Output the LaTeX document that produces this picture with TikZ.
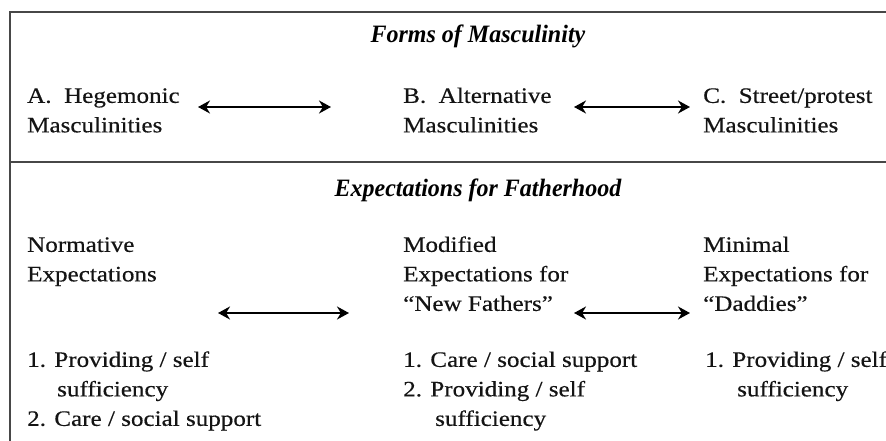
\documentclass[tikz,border=0pt]{standalone}
\usepackage{fontspec}
\setmainfont[FakeStretch=1.14,FakeBold=0.4]{Liberation Serif}
\newfontfamily\titlefont[FakeStretch=0.96]{Liberation Serif}
\usetikzlibrary{arrows.meta}
\begin{document}
\begin{tikzpicture}[x=1pt,y=-1pt,
  txt/.style={anchor=north west, inner sep=0pt, align=left, text=black!92,
    font=\fontsize{22}{29.5}\selectfont},
  ttl/.style={anchor=base, inner sep=0pt, text=black,
    font=\titlefont\fontsize{25}{28}\selectfont\bfseries\itshape},
  rule/.style={line width=2.6pt, draw=black!72},
  link/.style={line width=2.8pt, draw=black,
    {Stealth[length=12pt,width=13pt]}-{Stealth[length=12pt,width=13pt]}}]
\useasboundingbox (0,0) rectangle (886,441);
\fill[white] (0,0) rectangle (886,441);
% frame
\draw[rule] (886,12) -- (10,12) -- (10,441);
\draw[rule] (10,162) -- (886,162);
% titles
\node[ttl] (t1) at (478,43) {Forms of Masculinity};
\node[ttl] (t2) at (478,196) {Expectations for Fatherhood};
% top row
\node[txt] (A) at (27,82) {\strut A.\ \ Hegemonic\\Masculinities};
\node[txt] (B) at (403,82) {\strut B.\ \ Alternative\\Masculinities};
\node[txt] (C) at (703,82) {\strut C.\ \ Street/protest\\Masculinities};
% bottom row
\node[txt] (N) at (27,231) {\strut Normative\\Expectations};
\node[txt] (M) at (403,231) {\strut Modified\\Expectations for\\``New Fathers''};
\node[txt] (D) at (703,231) {\strut Minimal\\Expectations for\\``Daddies''};
% lists
\node[txt] (NL) at (27,346) {\strut 1. Providing / self\\\hspace*{30pt}sufficiency\\2. Care / social support};
\node[txt] (ML) at (403,346) {\strut 1. Care / social support\\2. Providing / self\\\hspace*{32pt}sufficiency};
\node[txt] (DL) at (705,346) {\strut 1. Providing / self\\\hspace*{32pt}sufficiency};
% arrow end points
\coordinate (a1) at (198,107);
\coordinate (a2) at (331,107);
\coordinate (a3) at (574,107);
\coordinate (a4) at (690,107);
\coordinate (b1) at (218,313);
\coordinate (b2) at (349,313);
\coordinate (b3) at (574,313);
\coordinate (b4) at (690,313);
\draw[link] (a1) -- (a2);
\draw[link] (a3) -- (a4);
\draw[link] (b1) -- (b2);
\draw[link] (b3) -- (b4);
\end{tikzpicture}
\end{document}
